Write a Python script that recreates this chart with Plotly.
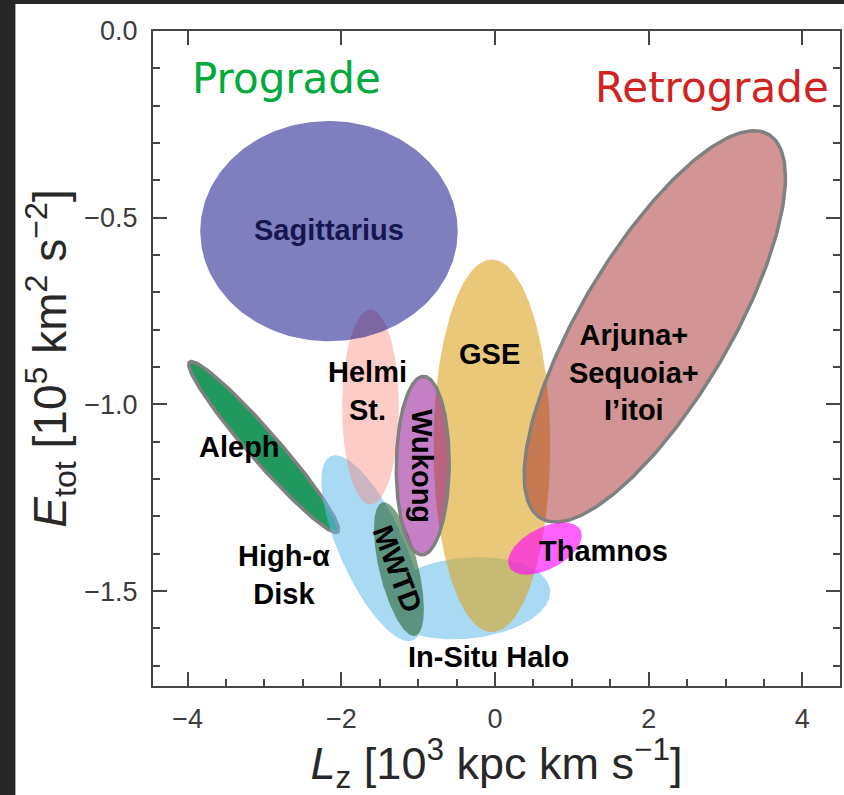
import numpy as np
import plotly.graph_objects as go

# ---------------- data (Lz in 1e3 kpc km/s, Etot in 1e5 km^2/s^2) ----------------
# ellipse: centre, half-extent in Lz, half-extent in E, tilt correlation
regions   = ["Aleph", "High-α Disk", "In-Situ Halo", "Helmi St.", "Sagittarius",
             "GSE", "MWTD", "Wukong", "Arjuna+Sequoia+I’itoi", "Thamnos"]
center_lz = [-3.01, -1.60, -0.38, -1.62, -2.16, -0.04, -1.25, -0.94, 2.08, 0.65]
center_e  = [-1.114, -1.385, -1.519, -1.007, -0.536, -1.111, -1.441, -1.164, -0.791, -1.386]
half_lz   = [0.975, 0.66, 1.10, 0.37, 1.675, 0.76, 0.325, 0.344, 1.70, 0.48]
half_e    = [0.229, 0.249, 0.110, 0.261, 0.295, 0.499, 0.179, 0.239, 0.524, 0.070]
tilt      = [-0.965, -0.72, 0.15, 0.0, 0.0, 0.0, -0.6, 0.03, 0.76, 0.50]
group     = [0, 1, 1, 2, 3, 4, 5, 6, 7, 8]   # High-α Disk + In-Situ Halo share one patch

group_fill = ["rgb(32,152,94)", "rgba(100,185,235,0.55)", "rgba(250,128,114,0.4)",
              "rgba(0,0,128,0.5)", "rgba(218,165,32,0.6)", "rgba(40,100,50,0.6)",
              "rgba(139,0,139,0.5)", "rgba(165,42,42,0.5)", "rgba(255,0,255,0.62)"]
group_edge = [True, False, False, False, False, False, True, True, False]

label_text  = ["Sagittarius", "Helmi<br>St.", "GSE", "Wukong", "Arjuna+<br>Sequoia+<br>I’itoi",
               "Aleph", "High-α<br>Disk", "MWTD", "Thamnos", "In-Situ Halo"]
label_lz    = [-2.156, -1.66, -0.065, -0.96, 1.805, -3.325, -2.74, -1.27, 1.416, -0.078]
label_e     = [-0.532, -0.963, -0.864, -1.166, -0.914, -1.115, -1.457, -1.441, -1.393, -1.676]
label_angle = [0, 0, 0, 90, 0, 0, 0, 69, 0, 0]
label_color = ["#15154f"] + ["#000000"] * 9

x_ticks = [-4, -2, 0, 2, 4]
y_ticks = [0.0, -0.5, -1.0, -1.5]
x_range = [-4.45, 4.49]
y_range = [-1.754, 0.0]


def ellipse(cx, cy, hx, hy, r, n=260):
    t = np.linspace(0, 2 * np.pi, n)
    x = cx + hx * np.cos(t)
    y = cy + hy * (r * np.cos(t) + np.sqrt(1 - r * r) * np.sin(t))
    return list(x), list(y)


fig = go.Figure()

for g in range(len(group_fill)):
    xs, ys = [], []
    for i, gi in enumerate(group):
        if gi != g:
            continue
        ex, ey = ellipse(center_lz[i], center_e[i], half_lz[i], half_e[i], tilt[i])
        if xs:
            xs.append(None)
            ys.append(None)
        xs += ex
        ys += ey
    fig.add_trace(go.Scatter(
        x=xs, y=ys, mode="lines", fill="toself",
        fillcolor=group_fill[g],
        line=dict(color="rgb(128,128,128)" if group_edge[g] else "rgba(0,0,0,0)",
                  width=3.5 if group_edge[g] else 0),
        hoverinfo="skip", showlegend=False))

for txt, lx, ly, ang, col in zip(label_text, label_lz, label_e, label_angle, label_color):
    fig.add_annotation(x=lx, y=ly, text=txt, showarrow=False, textangle=ang,
                       font=dict(family="Liberation Sans", size=29, color=col, weight="bold"),
                       xanchor="center", yanchor="middle")

fig.add_annotation(x=-2.71, y=-0.126, text="Prograde", showarrow=False,
                   font=dict(family="DejaVu Sans", size=42, color="rgb(0,170,60)"),
                   xanchor="center", yanchor="middle")
fig.add_annotation(x=2.82, y=-0.152, text="Retrograde", showarrow=False,
                   font=dict(family="DejaVu Sans", size=42, color="rgb(210,35,35)"),
                   xanchor="center", yanchor="middle")

# dark textured frame behind the white page
fig.add_shape(type="rect", xref="paper", yref="paper",
              x0=-0.2003, x1=1.02, y0=-0.2, y1=1.0412,
              fillcolor="white", line=dict(width=0), layer="below")

axis_common = dict(
    showline=True, linecolor="rgb(70,70,70)", linewidth=2,
    showgrid=False, zeroline=False,
    ticks="inside", tickcolor="rgb(70,70,70)", tickwidth=2, ticklen=14,
    tickfont=dict(family="Liberation Sans", size=27, color="rgb(60,60,60)"),
    ticklabelstandoff=8,
)

fig.update_layout(
    width=844, height=795,
    margin=dict(l=153, r=2, t=31, b=109),
    paper_bgcolor="#262626", plot_bgcolor="white",
    xaxis=dict(range=x_range, tickvals=x_ticks,
               ticktext=[("−" + str(abs(v))) if v < 0 else str(v) for v in x_ticks],
               mirror=True,
               minor=dict(dtick=0.5, ticklen=7, tickwidth=1.5, tickcolor="rgb(70,70,70)",
                          ticks="inside", showgrid=False),
               title=dict(text="<i>L</i><sub>z</sub> [10<sup>3</sup> kpc km s<sup>−1</sup>]",
                          font=dict(family="Liberation Sans", size=45, color="rgb(40,40,40)"),
                          standoff=13),
               **axis_common),
    xaxis2=dict(overlaying="x", side="top", range=x_range, tickvals=x_ticks,
                showticklabels=False, showline=False, showgrid=False, zeroline=False,
                ticks="inside", tickcolor="rgb(70,70,70)", tickwidth=2, ticklen=14),
    yaxis=dict(range=y_range, tickvals=y_ticks,
               ticktext=["0.0", "−0.5", "−1.0", "−1.5"],
               mirror="ticks",
               minor=dict(dtick=0.1, ticklen=7, tickwidth=1.5, tickcolor="rgb(70,70,70)",
                          ticks="inside", showgrid=False),
               title=dict(text="<i>E</i><sub>tot</sub> [10<sup>5</sup> km<sup>2</sup> s<sup>−2</sup>]",
                          font=dict(family="Liberation Sans", size=46, color="rgb(40,40,40)"),
                          standoff=3),
               **axis_common),
)

fig.add_trace(go.Scatter(x=[None], y=[None], xaxis="x2", showlegend=False, hoverinfo="skip"))

fig.write_html("out.html")
